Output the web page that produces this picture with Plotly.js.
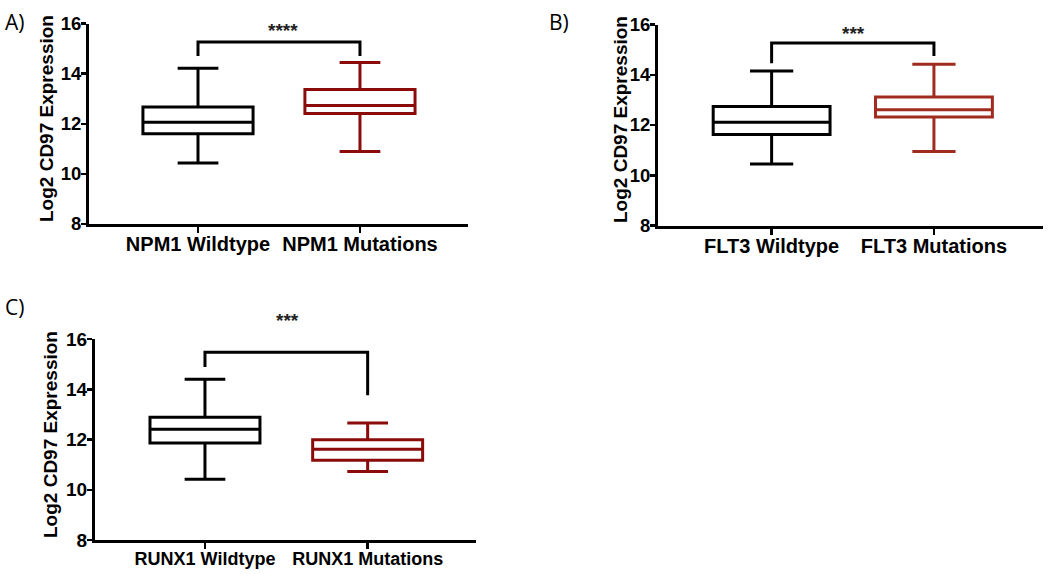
<!DOCTYPE html>
<html>
<head>
<meta charset="utf-8">
<script src="https://cdn.plot.ly/plotly-3.0.1.min.js"></script>
<style>html,body{margin:0;padding:0;background:#fff}#chart{width:1050px;height:574px}</style>
</head>
<body>
<div id="chart"></div>
<script>
// ---- data ----
const panelLetters = ['A)', 'B)', 'C)'];
const categoriesA = ['NPM1 Wildtype', 'NPM1 Mutations'];
const categoriesB = ['FLT3 Wildtype', 'FLT3 Mutations'];
const categoriesC = ['RUNX1 Wildtype', 'RUNX1 Mutations'];
// [lower whisker, q1, median, q3, upper whisker]
const statsA_wt  = [10.43, 11.60, 12.06, 12.67, 14.21];
const statsA_mut = [10.89, 12.41, 12.73, 13.37, 14.44];
const statsB_wt  = [10.45, 11.62, 12.11, 12.74, 14.15];
const statsB_mut = [10.95, 12.32, 12.61, 13.11, 14.42];
const statsC_wt  = [10.42, 11.86, 12.41, 12.89, 14.40];
const statsC_mut = [10.73, 11.17, 11.61, 11.99, 12.66];
const significance = ['****', '***', '***'];
// bracket levels: [top, left leg end, right leg end]
const bracketA = [15.26, 14.70, 14.70];
const bracketB = [15.26, 14.46, 14.75];
const bracketC = [15.47, 14.89, 13.76];
const yTicks = [8, 10, 12, 14, 16];
const yTitle = 'Log2 CD97 Expression';

const BLACK = '#000000';
const RED_AC = '#8b0a0a';
const RED_B = '#a02c20';
const FONT = 'Liberation Sans, Arial, sans-serif';

const panels = [
  {cats: categoriesA, wt: statsA_wt, mut: statsA_mut, red: RED_AC, br: bracketA, xa: 'x', ya: 'y',
   xdom: [89/1050, 468/1050], ydom: [1-224/574, 1-23.5/574], xr: [-0.673, 1.667], catSize: 20, tickSize: 18.5,
   starPx: [283, 30], titlePx: [47, 119]},
  {cats: categoriesB, wt: statsB_wt, mut: statsB_mut, red: RED_B, br: bracketB, xa: 'x2', ya: 'y2',
   xdom: [658/1050, 1043/1050], ydom: [1-225.5/574, 1-24.5/574], xr: [-0.70, 1.672], catSize: 20, tickSize: 18.5,
   starPx: [853, 34], titlePx: [620, 120]},
  {cats: categoriesC, wt: statsC_wt, mut: statsC_mut, red: RED_AC, br: bracketC, xa: 'x3', ya: 'y3',
   xdom: [95/1050, 476/1050], ydom: [1-540/574, 1-339/574], xr: [-0.676, 1.666], catSize: 18, tickSize: 19,
   starPx: [287, 320], titlePx: [50, 435]}
];
const boxWidth = [0.68, 0.72, 0.676];

const traces = [];
const shapes = [];
const annotations = [];
const layout = {
  width: 1050, height: 574,
  margin: {l: 0, r: 0, t: 0, b: 0},
  paper_bgcolor: '#fff', plot_bgcolor: 'rgba(0,0,0,0)',
  showlegend: false,
  font: {family: FONT, color: '#000'}
};

panels.forEach((p, i) => {
  const groups = [[p.wt, BLACK], [p.mut, p.red]];
  groups.forEach((g, j) => {
    const s = g[0];
    traces.push({
      type: 'box', xaxis: p.xa, yaxis: p.ya,
      x: [j], lowerfence: [s[0]], q1: [s[1]], median: [s[2]], q3: [s[3]], upperfence: [s[4]],
      width: boxWidth[i], whiskerwidth: 0.37, boxpoints: false,
      line: {color: g[1], width: 3}, fillcolor: 'rgba(255,255,255,0)',
      hoverinfo: 'skip'
    });
  });
  const sfx = i === 0 ? '' : String(i + 1);
  layout['xaxis' + sfx] = {
    domain: p.xdom, range: p.xr, anchor: 'y' + sfx,
    tickmode: 'array', tickvals: [0, 1], ticktext: p.cats,
    showline: true, linecolor: '#000', linewidth: 3, mirror: false,
    ticks: 'outside', ticklen: 6, tickwidth: 2.5, tickcolor: '#000',
    ticklabelstandoff: -6,
    showgrid: false, zeroline: false, fixedrange: true,
    tickfont: {family: FONT, size: p.catSize, color: '#000', weight: 'bold'}
  };
  layout['yaxis' + sfx] = {
    domain: p.ydom, range: [8, 16], anchor: 'x' + sfx,
    tickmode: 'array', tickvals: yTicks, ticktext: yTicks.map(String),
    showline: true, linecolor: '#000', linewidth: 3,
    ticks: 'outside', ticklen: 5, tickwidth: 2.5, tickcolor: '#000',
    ticklabelstandoff: -4,
    showgrid: false, zeroline: false, fixedrange: true,
    tickfont: {family: FONT, size: p.tickSize, color: '#000', weight: 'bold'}
  };
  // y-axis title placed as rotated text
  annotations.push({
    xref: 'paper', yref: 'paper', x: p.titlePx[0] / 1050, y: 1 - p.titlePx[1] / 574,
    xanchor: 'center', yanchor: 'middle', textangle: -90, showarrow: false, text: yTitle,
    font: {family: FONT, size: 19, color: '#000', weight: 'bold'}
  });
  // significance bracket
  const br = p.br;
  shapes.push({
    type: 'path', xref: p.xa, yref: p.ya,
    path: `M 0 ${br[1]} L 0 ${br[0]} L 1 ${br[0]} L 1 ${br[2]}`,
    line: {color: '#000', width: 3}
  });
  annotations.push({
    xref: 'paper', yref: 'paper', x: p.starPx[0] / 1050, y: 1 - p.starPx[1] / 574, text: significance[i],
    showarrow: false, xanchor: 'center', yanchor: 'middle',
    font: {family: FONT, size: 19, color: '#222', weight: 'bold'}
  });
});

// panel letters
const letterPos = [[3, 22], [547, 22], [3, 307]];
panelLetters.forEach((t, i) => {
  annotations.push({
    xref: 'paper', yref: 'paper', x: letterPos[i][0] / 1050, y: 1 - letterPos[i][1] / 574,
    xanchor: 'left', yanchor: 'middle', text: t, showarrow: false,
    font: {family: 'Open Sans, sans-serif', size: 21, color: '#000'}
  });
});

layout.shapes = shapes;
layout.annotations = annotations;

Plotly.newPlot('chart', traces, layout, {displayModeBar: false, staticPlot: true});
</script>
</body>
</html>
